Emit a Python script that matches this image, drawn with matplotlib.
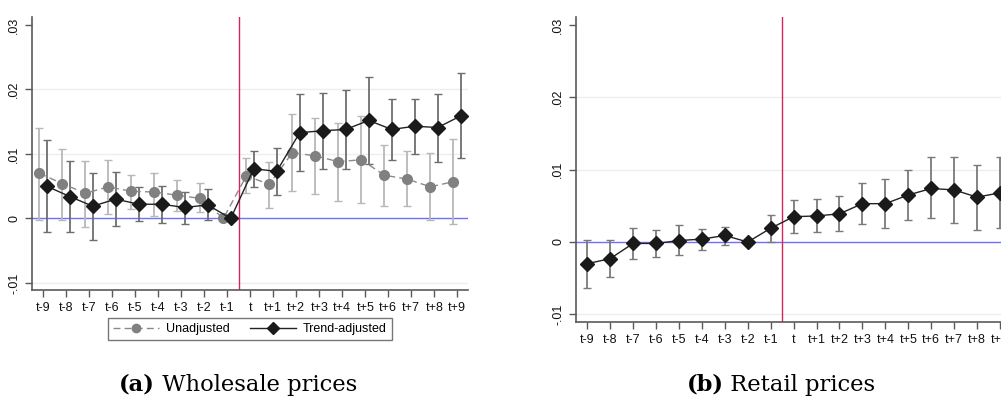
# Event-study plots: wholesale and retail price responses
import matplotlib.pyplot as plt
from matplotlib.lines import Line2D
import numpy as np

periods = ['t-9', 't-8', 't-7', 't-6', 't-5', 't-4', 't-3', 't-2', 't-1',
           't', 't+1', 't+2', 't+3', 't+4', 't+5', 't+6', 't+7', 't+8', 't+9']

# wholesale, unadjusted
unadj = [0.0070, 0.0054, 0.0039, 0.0049, 0.0042, 0.0041, 0.0036, 0.0031, 0.0,
         0.0066, 0.0053, 0.0102, 0.0097, 0.0088, 0.0091, 0.0067, 0.0061, 0.0049, 0.0057]
unadj_lo = [-0.0002, -0.0003, -0.0014, 0.0007, 0.0014, 0.0004, 0.0012, 0.0010, 0.0,
            0.0039, 0.0016, 0.0042, 0.0038, 0.0027, 0.0024, 0.0019, 0.0019, -0.0003, -0.0009]
unadj_hi = [0.0141, 0.0108, 0.0089, 0.0091, 0.0068, 0.0071, 0.0060, 0.0055, 0.0,
            0.0094, 0.0088, 0.0162, 0.0155, 0.0148, 0.0159, 0.0114, 0.0104, 0.0102, 0.0123]

# wholesale, trend-adjusted
trend = [0.0050, 0.0034, 0.0019, 0.0030, 0.0022, 0.0022, 0.0017, 0.0021, 0.0,
         0.0077, 0.0073, 0.0133, 0.0136, 0.0138, 0.0152, 0.0138, 0.0143, 0.0141, 0.0159]
trend_lo = [-0.0021, -0.0021, -0.0033, -0.0012, -0.0004, -0.0007, -0.0009, -0.0003, 0.0,
            0.0048, 0.0037, 0.0073, 0.0077, 0.0077, 0.0085, 0.0090, 0.0100, 0.0088, 0.0093]
trend_hi = [0.0121, 0.0089, 0.0071, 0.0072, 0.0049, 0.0051, 0.0041, 0.0045, 0.0,
            0.0105, 0.0110, 0.0193, 0.0195, 0.0199, 0.0220, 0.0186, 0.0186, 0.0193, 0.0226]

# retail
retail = [-0.0030, -0.0023, -0.0002, -0.0002, 0.0002, 0.0004, 0.0009, 0.0, 0.0019,
          0.0035, 0.0036, 0.0039, 0.0053, 0.0053, 0.0065, 0.0074, 0.0072, 0.0062, 0.0068]
retail_lo = [-0.0063, -0.0049, -0.0023, -0.0021, -0.0018, -0.0011, -0.0004, 0.0, 0.0,
             0.0012, 0.0014, 0.0015, 0.0025, 0.0019, 0.0031, 0.0033, 0.0026, 0.0017, 0.0020]
retail_hi = [0.0003, 0.0003, 0.0019, 0.0016, 0.0023, 0.0018, 0.0021, 0.0, 0.0038,
             0.0058, 0.0059, 0.0063, 0.0081, 0.0087, 0.0099, 0.0117, 0.0118, 0.0107, 0.0118]

plt.rcParams['font.family'] = ['Liberation Sans', 'DejaVu Sans']

RED = '#d8245a'
BLUE = '#7070ff'
GRID = '#e9f0ef'
AXIS = '#5a5a5a'
FS = 9


def style_axes(ax, ylim):
    x = np.arange(len(periods))
    ax.set_xlim(-0.49, len(periods) - 0.52)
    ax.set_ylim(*ylim)
    ax.set_yticks([-0.01, 0, 0.01, 0.02, 0.03])
    ax.set_yticklabels(['-.01', '0', '.01', '.02', '.03'], rotation=90, va='center', fontsize=FS)
    ax.set_xticks(x)
    ax.set_xticklabels(periods, fontsize=FS)
    for v in [-0.01, 0.01, 0.02]:
        ax.axhline(v, color=GRID, lw=1, zorder=0)
    ax.axhline(0, color=BLUE, lw=1, zorder=1)
    ax.axvline(8.5, color=RED, lw=1, zorder=1)
    for s in ['top', 'right']:
        ax.spines[s].set_visible(False)
    for s in ['left', 'bottom']:
        ax.spines[s].set_color(AXIS)
        ax.spines[s].set_linewidth(1.2)
    ax.tick_params(colors=AXIS, labelcolor='#111111', length=5, width=1)


def ci_plot(ax, xs, y, lo, hi, ecolor, **kw):
    y = np.array(y)
    err = np.vstack([y - np.array(lo), np.array(hi) - y])
    ax.errorbar(xs, y, yerr=err, fmt='none', ecolor=ecolor, elinewidth=1.3,
                capsize=3, capthick=1, zorder=2)
    ax.plot(xs, y, zorder=3, **kw)


fig = plt.figure(figsize=(10.01, 3.99), dpi=100)
W, H = 1001, 399
ax1 = fig.add_axes([32 / W, (H - 290) / H, 436.3 / W, 273 / H])
ax2 = fig.add_axes([576 / W, (H - 321.7) / H, 435 / W, 305 / H])

x = np.arange(len(periods))
style_axes(ax1, (-0.0111, 0.03124))
ci_plot(ax1, x - 0.17, unadj, unadj_lo, unadj_hi, '#b8b8b8',
        color='#8a8a8a', ls=(0, (5, 3)), lw=1, marker='o', ms=7,
        markerfacecolor='#808080', markeredgecolor='#808080')
ci_plot(ax1, x + 0.15, trend, trend_lo, trend_hi, '#6e6e6e',
        color='#222222', lw=1, marker='D', ms=7,
        markerfacecolor='#1a1a1a', markeredgecolor='#1a1a1a')

style_axes(ax2, (-0.01102, 0.03115))
ci_plot(ax2, x, retail, retail_lo, retail_hi, '#7a7a7a',
        color='#222222', lw=1, marker='D', ms=7,
        markerfacecolor='#1a1a1a', markeredgecolor='#1a1a1a')

handles = [Line2D([], [], color='#8a8a8a', ls=(0, (5, 3)), lw=1, marker='o', ms=6,
                  markerfacecolor='#808080', markeredgecolor='#808080'),
           Line2D([], [], color='#222222', lw=1, marker='D', ms=6,
                  markerfacecolor='#1a1a1a', markeredgecolor='#1a1a1a')]
leg = fig.legend(handles, ['Unadjusted', 'Trend-adjusted'], ncol=2,
                 loc='center', bbox_to_anchor=(250 / W, (H - 329) / H),
                 fontsize=FS, frameon=True, fancybox=False, handlelength=3.7,
                 columnspacing=1.6, borderpad=0.4, handletextpad=0.55)
leg.get_frame().set_edgecolor('#555555')
leg.get_frame().set_linewidth(1)


def caption(cx, cy, tag, txt):
    fig.canvas.draw()
    r = fig.canvas.get_renderer()
    a = fig.text(0, cy, tag, fontsize=16.3, fontweight='bold', family='DejaVu Serif', va='center')
    b = fig.text(0, cy, ' ' + txt, fontsize=16.3, family='DejaVu Serif', va='center')
    wa = a.get_window_extent(r).width / W
    wb = b.get_window_extent(r).width / W
    x0 = cx - (wa + wb) / 2
    a.set_x(x0)
    b.set_x(x0 + wa)


caption(238 / W, (H - 385) / H, '(a)', 'Wholesale prices')
caption(781 / W, (H - 385) / H, '(b)', 'Retail prices')

fig.savefig('out.png', dpi=100)
